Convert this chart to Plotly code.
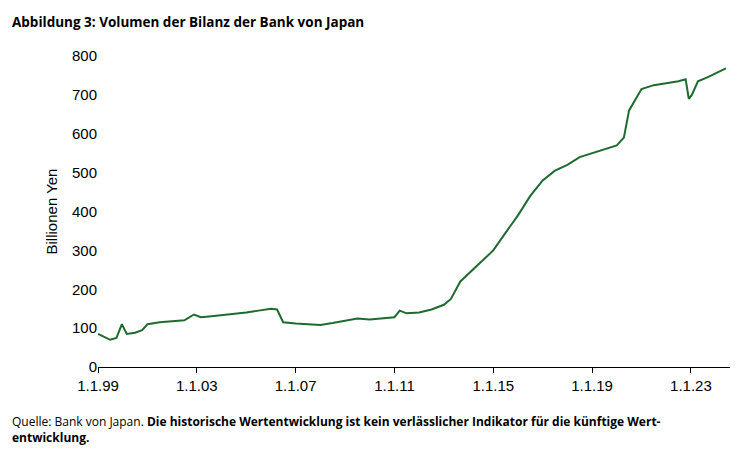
import plotly.graph_objects as go

dates = ["1999-01-01","1999-04-01","1999-07-01","1999-10-01","1999-12-20","2000-03-01","2000-07-01","2000-10-15","2001-01-01","2001-07-01",
"2002-01-01","2002-07-01","2002-11-20","2003-03-01","2003-07-01","2004-01-01","2004-07-01","2005-01-01","2005-07-01","2006-01-01",
"2006-04-01","2006-07-01","2007-01-01","2007-07-01","2008-01-01","2008-07-01","2009-01-01","2009-07-01","2010-01-01","2010-07-01",
"2011-01-01","2011-03-20","2011-07-01","2012-01-01","2012-07-01","2013-01-01","2013-04-15","2013-09-01","2014-01-01","2014-07-01",
"2015-01-01","2015-07-01","2016-01-01","2016-07-01","2017-01-01","2017-07-01","2018-01-01","2018-07-01","2019-01-01","2019-07-01",
"2020-01-01","2020-04-15","2020-07-01","2021-01-01","2021-07-01","2022-01-01","2022-07-01","2022-10-15","2022-12-01","2023-01-15",
"2023-04-15","2023-09-01","2024-01-01","2024-06-01"]
values = [85,78,70,75,110,85,88,95,110,115,
118,120,135,128,130,133,136,140,145,150,
148,115,112,110,108,113,120,125,122,125,
128,145,138,140,148,160,175,220,240,270,
300,345,390,440,480,505,520,540,550,560,
570,590,660,715,725,730,735,740,690,700,
735,745,755,768]
tickvals = ["1999-01-01","2003-01-01","2007-01-01","2011-01-01","2015-01-01","2019-01-01","2023-01-01"]
ticktext = ["1.1.99","1.1.03","1.1.07","1.1.11","1.1.15","1.1.19","1.1.23"]

fig = go.Figure(go.Scatter(x=dates, y=values, mode="lines", line=dict(color="#1e6b2e", width=2)))
fig.update_layout(
    width=744, height=467, margin=dict(l=90, r=22, t=48, b=108),
    plot_bgcolor="white", paper_bgcolor="white", showlegend=False,
    font=dict(family="Liberation Sans, Arial", size=15, color="black"),
    annotations=[
        dict(text="<b>Abbildung 3: Volumen der Bilanz der Bank von Japan</b>", xref="paper", yref="paper",
             x=-0.14, y=1.145, xanchor="left", yanchor="top", showarrow=False,
             font=dict(family="Open Sans", size=13.5)),
        dict(text="Quelle: Bank von Japan. <b>Die historische Wertentwicklung ist kein verlässlicher Indikator für die künftige Wert-</b><br><b>entwicklung.</b>",
             xref="paper", yref="paper", x=-0.14, y=-0.14, xanchor="left", yanchor="top", showarrow=False,
             align="left", font=dict(family="Open Sans", size=12)),
    ],
)
fig.update_xaxes(range=["1999-01-01","2024-08-01"], tickvals=tickvals, ticktext=ticktext,
                 showgrid=False, showline=True, linecolor="black", ticks="outside", ticklen=5, tickcolor="black")
fig.update_yaxes(range=[0, 800], dtick=100, showgrid=False, showline=False, zeroline=False,
                 title=dict(text="Billionen Yen", standoff=10, font=dict(size=15)))
fig.write_html("out.html")
